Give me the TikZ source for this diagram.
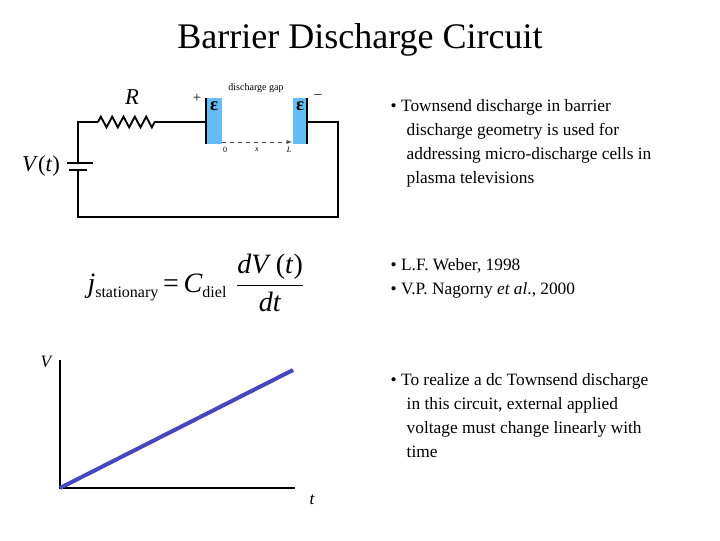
\documentclass[tikz,border=0pt]{standalone}
\usepackage{fontspec}
\setmainfont{Liberation Serif}
\usetikzlibrary{decorations.pathmorphing}
\begin{document}
\begin{tikzpicture}[x=0.75pt,y=-0.75pt,
 wire/.style={line width=1.4pt,black},
 diel/.style={fill={rgb,255:red,100;green,190;blue,245},draw=none},
 btxt/.style={anchor=north west,align=left,font=\fontsize{13}{18}\selectfont}]
\useasboundingbox (0,0) rectangle (720,540);
\node (title) at (360,40) {\fontsize{27}{30}\selectfont Barrier Discharge Circuit};
% circuit
\coordinate (tl) at (78,122); \coordinate (bl) at (78,217);
\coordinate (br) at (338,217); \coordinate (tr) at (338,122);
\coordinate (r1) at (98,122); \coordinate (r2) at (160,122);
\coordinate (e1) at (206,122); \coordinate (e2) at (307,122);
\coordinate (bt) at (78,163); \coordinate (bb) at (78,170);
\draw[wire] (bt)--(tl)--(r1);
\draw[wire,decorate,decoration={zigzag,segment length=8.5pt,amplitude=4pt}] (r1)--(r2);
\draw[wire] (r2)--(e1);
\draw[wire] (e2)--(tr)--(br)--(bl)--(bb);
\draw[wire] (67,163)--(93,163);
\draw[wire,line width=2pt] (69,170)--(87,170);
\node[diel,minimum width=12pt,minimum height=34.5pt,inner sep=0] (d1) at (214,121) {};
\node[diel,minimum width=10.5pt,minimum height=34.5pt,inner sep=0] (d2) at (300,121) {};
\draw[wire] (206,98)--(206,144);
\draw[wire] (307,98)--(307,144);
\node at (214,106) {\fontsize{14}{14}\selectfont\textbf{ε}};
\node at (300,106) {\fontsize{14}{14}\selectfont\textbf{ε}};
\draw[dashed,gray!60!black,-latex] (222,142)--(292,142);
\node[font=\fontsize{6}{6}\selectfont] at (225,150) {0};
\node[font=\itshape\fontsize{6}{6}\selectfont] at (257,150) {x};
\node[font=\itshape\fontsize{6}{6}\selectfont] at (289,150) {L};
\node[font=\fontsize{7.5}{8}\selectfont] at (256,88) {discharge gap};
\node[font=\fontsize{11}{11}\selectfont] at (197,98) {+};
\node[font=\fontsize{11}{11}\selectfont] at (318,97) {--};
\node[font=\itshape\fontsize{17}{17}\selectfont] at (132,97) {R};
\node[font=\fontsize{17}{17}\selectfont] at (41,166) {\textit{V}(\textit{t})};
% formula
\node (eq) at (196,283) {\fontsize{21}{21}\selectfont\textit{j}\raisebox{-4pt}{\fontsize{12}{12}\selectfont stationary}\,=\,\textit{C}\raisebox{-4pt}{\fontsize{12}{12}\selectfont diel}\,\,$\displaystyle\frac{\hbox{\textit{dV}\,(\textit{t})}}{\hbox{\rule{0pt}{17pt}\textit{dt}}}$};
% graph
\coordinate (o) at (60,488); \coordinate (yt) at (60,360); \coordinate (xe) at (295,488);
\draw[line width=1.2pt] (yt)--(o)--(xe);
\draw[line width=3pt,color={rgb,255:red,70;green,70;blue,190}] (o)--(293,370);
\node[font=\itshape\fontsize{13}{13}\selectfont] at (46,362) {V};
\node[font=\itshape\fontsize{13}{13}\selectfont] at (312,500) {t};
% bullets
\node[btxt] (b1) at (386,95) {\textbullet\ Townsend discharge in barrier\\\hspace*{12pt}discharge geometry is used for\\\hspace*{12pt}addressing micro-discharge cells in\\\hspace*{12pt}plasma televisions};
\node[btxt] (b2) at (386,254) {\textbullet\ L.F. Weber, 1998\\\textbullet\ V.P. Nagorny \textit{et al}., 2000};
\node[btxt] (b3) at (386,369) {\textbullet\ To realize a dc Townsend discharge\\\hspace*{12pt}in this circuit, external applied\\\hspace*{12pt}voltage must change linearly with\\\hspace*{12pt}time};
\end{tikzpicture}
\end{document}
